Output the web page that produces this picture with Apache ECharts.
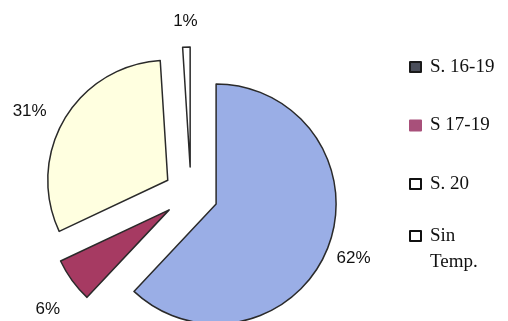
<!DOCTYPE html>
<html><head><meta charset="utf-8">
<script src="https://cdn.jsdelivr.net/npm/echarts@6/dist/echarts.min.js"></script>
<style>html,body{margin:0;padding:0;background:#fff}#c{width:508px;height:321px}</style>
</head><body><div id="c"></div>
<script>
const categories = ['S. 16-19', 'S 17-19', 'S. 20', 'Sin Temp.'];
const values = [62, 6, 31, 1];
const sliceColors = ['#9aaee6', '#a63a62', '#ffffe0', '#ffffff'];
const legendFill = ['#4a4e5a', '#a8507a', '#ffffff', '#ffffff'];
const legendBorder = ['#1a1a1a', '#a8507a', '#111111', '#111111'];

const chart = echarts.init(document.getElementById('c'));
const pieData = categories.map((n, i) => ({ name: n, value: values[i], selected: true, itemStyle: { color: sliceColors[i] } }));
const labelData = categories.map((n, i) => ({ name: n, value: values[i], selected: true }));
const legendItem = (i) => ({ name: categories[i], icon: 'rect', itemStyle: { color: legendFill[i], borderColor: legendBorder[i], borderWidth: 2 } });
// small label nudges, mimicking the original's label placement
const nudge = [[-2, -1], [0, 11], [-9, 7], [0, 4]];

chart.setOption({
  animation: false,
  backgroundColor: '#ffffff',
  legend: [
    {
      orient: 'vertical', left: 409, top: 57, padding: 0, itemGap: 38.5,
      itemWidth: 11, itemHeight: 10, selectedMode: false,
      textStyle: { fontFamily: 'Liberation Serif', fontSize: 19, color: '#111', lineHeight: 20, padding: [0, 0, 0, 4] },
      data: [0, 1, 2].map(legendItem)
    },
    {
      orient: 'vertical', left: 409, top: 197, padding: 0,
      itemWidth: 11, itemHeight: 10, selectedMode: false,
      formatter: n => '\n' + n.replace(' ', '\n'),
      textStyle: { fontFamily: 'Liberation Serif', fontSize: 19, color: '#111', lineHeight: 26, padding: [0, 0, 0, 4] },
      data: [legendItem(3)]
    }
  ],
  series: [
    {
      type: 'pie', center: [191, 194], radius: [0, 120], startAngle: 90, clockwise: true,
      selectedMode: 'multiple', selectedOffset: 27, avoidLabelOverlap: false,
      label: { show: false }, labelLine: { show: false },
      itemStyle: { borderColor: '#2a2a2a', borderWidth: 1.5 },
      emphasis: { disabled: true },
      data: pieData
    },
    {
      type: 'pie', center: [191, 194], radius: [0, 294], startAngle: 90, clockwise: true,
      selectedMode: 'multiple', selectedOffset: 27, avoidLabelOverlap: false, silent: true,
      itemStyle: { color: 'rgba(0,0,0,0)', borderWidth: 0 },
      label: { show: true, position: 'inside', formatter: '{c}%', fontFamily: 'Liberation Sans', fontSize: 17, color: '#111' },
      labelLine: { show: false },
      labelLayout: p => ({ dx: nudge[p.dataIndex][0], dy: nudge[p.dataIndex][1] }),
      emphasis: { disabled: true },
      data: labelData
    }
  ]
});
</script></body></html>
